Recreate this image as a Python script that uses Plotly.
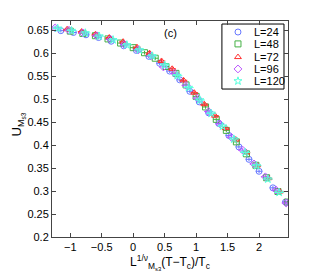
import plotly.graph_objects as go

labels = ["L=24", "L=48", "L=72", "L=96", "L=120"]

x24 = [-1.15, -0.95, -0.75, -0.55, -0.35, -0.15, 0.05, 0.25, 0.42, 0.58, 0.74, 0.90, 1.05, 1.20, 1.36, 1.52, 1.68, 1.84, 2.00, 2.22, 2.42]
y24 = [0.649, 0.645, 0.640, 0.634, 0.626, 0.616, 0.606, 0.593, 0.578, 0.561, 0.542, 0.517, 0.494, 0.470, 0.447, 0.421, 0.396, 0.369, 0.343, 0.307, 0.276]

x48 = [-1.00, -0.80, -0.60, -0.40, -0.20, 0.00, 0.18, 0.35, 0.52, 0.68, 0.84, 1.00, 1.15, 1.32, 1.48, 1.64, 1.80, 1.95, 2.12, 2.30, 2.45]
y48 = [0.648, 0.643, 0.638, 0.631, 0.622, 0.612, 0.601, 0.589, 0.571, 0.556, 0.531, 0.506, 0.483, 0.456, 0.432, 0.407, 0.381, 0.356, 0.329, 0.299, 0.276]

x72 = [-1.05, -0.82, -0.60, -0.38, -0.16, 0.06, 0.26, 0.45, 0.62, 0.80, 0.97, 1.13, 1.30, 1.47, 1.63, 1.80, 1.97, 2.15, 2.33]
y72 = [0.652, 0.647, 0.641, 0.634, 0.625, 0.613, 0.600, 0.583, 0.566, 0.541, 0.514, 0.489, 0.464, 0.437, 0.412, 0.384, 0.356, 0.328, 0.299]

x96 = [-1.24, -1.02, -0.80, -0.58, -0.36, -0.14, 0.08, 0.28, 0.48, 0.66, 0.84, 1.02, 1.20, 1.38, 1.56, 1.74, 1.92, 2.10, 2.27, 2.43]
y96 = [0.655, 0.650, 0.644, 0.638, 0.630, 0.619, 0.607, 0.594, 0.570, 0.556, 0.530, 0.502, 0.473, 0.446, 0.417, 0.389, 0.359, 0.331, 0.302, 0.274]

x120 = [-1.20, -0.98, -0.76, -0.54, -0.32, -0.10, 0.10, 0.30, 0.50, 0.70, 0.88, 1.06, 1.24, 1.42, 1.60, 1.78, 1.96, 2.14, 2.32]
y120 = [0.654, 0.649, 0.644, 0.637, 0.629, 0.618, 0.607, 0.594, 0.574, 0.551, 0.525, 0.498, 0.469, 0.441, 0.413, 0.384, 0.355, 0.326, 0.297]

xs = [x24, x48, x72, x96, x120]
ys = [y24, y48, y72, y96, y120]
xerr = [0.05, 0.05, 0.06, 0.07, 0.08]
yerr = [0.004, 0.004, 0.005, 0.005, 0.005]

colors = ["#6677ff", "#44b044", "#ff3030", "#bb55ff", "#55ffdd"]
symbols = ["circle-open", "square-open", "triangle-up-open", "diamond-open", "star-open"]

FONT = "Liberation Sans, Arial, sans-serif"

# legend layout (fractions of the plot area)
LEG_BOX = (0.720, 0.685, 0.983, 0.986)
LEG_MARK_X = 0.788
LEG_TEXT_X = 0.847
LEG_ROWS = [0.949, 0.894, 0.833, 0.778, 0.722]

fig = go.Figure()
for lab, x, y, c, s, ex, ey in zip(labels, xs, ys, colors, symbols, xerr, yerr):
    fig.add_trace(go.Scatter(
        x=x, y=y, mode="markers", name=lab, showlegend=False,
        marker=dict(symbol=s, size=6, color=c, line=dict(width=1, color=c)),
        error_x=dict(type="constant", value=ex, color=c, thickness=1, width=0),
        error_y=dict(type="constant", value=ey, color=c, thickness=1, width=0),
    ))

# manual legend
fig.add_shape(type="rect", xref="paper", yref="paper",
              x0=LEG_BOX[0], y0=LEG_BOX[1], x1=LEG_BOX[2], y1=LEG_BOX[3],
              line=dict(color="black", width=1), fillcolor="white", layer="below")
for lab, c, s, ry in zip(labels, colors, symbols, LEG_ROWS):
    fig.add_trace(go.Scatter(
        x=[LEG_MARK_X], y=[ry], mode="markers", xaxis="x2", yaxis="y2",
        showlegend=False, hoverinfo="skip",
        marker=dict(symbol=s, size=6, color=c, line=dict(width=1, color=c)),
    ))
    fig.add_annotation(x=LEG_TEXT_X, y=ry, xref="paper", yref="paper", text=lab,
                       showarrow=False, xanchor="left", yanchor="middle",
                       font=dict(family=FONT, size=11, color="black"))

fig.add_annotation(x=0.59, y=0.643, text="(c)", showarrow=False,
                   font=dict(family=FONT, size=11, color="black"))

# y-axis title as rotated annotation
fig.add_annotation(x=-0.145, y=0.52, xref="paper", yref="paper",
                   text="U<sub>M<sub>s3</sub></sub>", textangle=-90, showarrow=False,
                   xanchor="center", yanchor="middle",
                   font=dict(family=FONT, size=13, color="black"))

axis_common = dict(showline=True, linecolor="#444444", linewidth=1, mirror="ticks",
                   ticks="inside", ticklen=4, tickcolor="#444444", showgrid=False,
                   zeroline=False, automargin=False,
                   tickfont=dict(family=FONT, size=11, color="black"))

fig.update_layout(
    xaxis=dict(range=[-1.29, 2.46], tickvals=[-1, -0.5, 0, 0.5, 1, 1.5, 2],
               ticktext=["\u22121", "\u22120.5", "0", "0.5", "1", "1.5", "2"],
               title=dict(text="L<sup>1/\u03bd</sup><sub>M<sub>s3</sub></sub>(T\u2212T<sub>c</sub>)/T<sub>c</sub>",
                          font=dict(family=FONT, size=12, color="black"), standoff=4),
               **axis_common),
    yaxis=dict(range=[0.2, 0.67], tickvals=[0.2, 0.25, 0.3, 0.35, 0.4, 0.45, 0.5, 0.55, 0.6, 0.65],
               ticktext=["0.2", "0.25", "0.3", "0.35", "0.4", "0.45", "0.5", "0.55", "0.6", "0.65"],
               **axis_common),
    xaxis2=dict(overlaying="x", range=[0, 1], visible=False),
    yaxis2=dict(overlaying="y", range=[0, 1], visible=False),
    width=311, height=267,
    margin=dict(l=44, r=31, t=13, b=38),
    paper_bgcolor="white", plot_bgcolor="white",
    font=dict(family=FONT, size=11, color="black"),
    showlegend=False,
)

fig.write_html("out.html")
